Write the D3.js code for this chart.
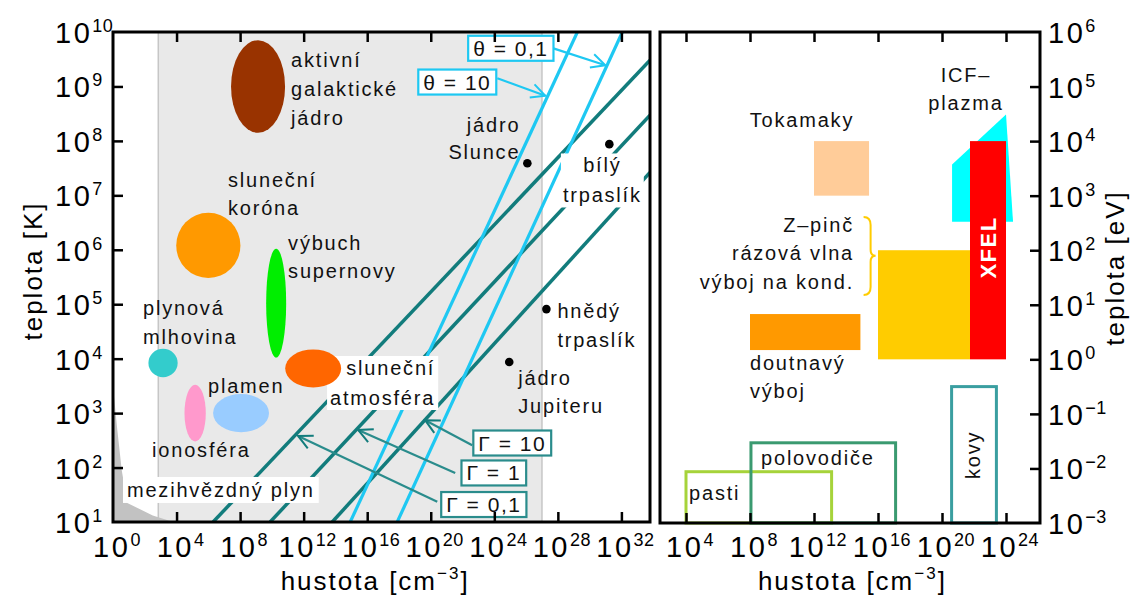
<!DOCTYPE html>
<html>
<head>
<meta charset="utf-8">
<script src="https://cdn.jsdelivr.net/npm/d3@7"></script>
<style>
  body { margin: 0; background: #fff; }
  text { font-family: "Liberation Sans", Arial, sans-serif; }
</style>
</head>
<body>
<script>
// all values are log10 exponents: density in cm^-3, temperature in K (left) / eV (right)
const xTicksLeft = [0, 4, 8, 12, 16, 20, 24, 28, 32];
const yTicksLeft = [1, 2, 3, 4, 5, 6, 7, 8, 9, 10];
const xTicksRight = [4, 8, 12, 16, 20, 24];
const yTicksRight = [-3, -2, -1, 0, 1, 2, 3, 4, 5, 6];

// degenerate (light gray) band and interstellar gas corner
const degenBand = [2.85, 27];
const ismN = [0, 0.25, 0.55, 0.9, 2.5, 3.8, 0];
const ismT = [3.5, 2.75, 1.95, 1.35, 1.12, 1.0, 1.0];

// plasma blobs (left panel)
const blobN = [9.13, 6.0, 10.27, 3.15, 12.6, 5.17, 8.06];
const blobT = [9.0, 6.08, 5.02, 3.92, 3.82, 3.0, 3.0];
const blobRN = [1.7, 2.02, 0.63, 0.92, 1.76, 0.67, 1.76];
const blobRT = [0.85, 0.6, 1.0, 0.26, 0.35, 0.52, 0.35];
const blobColors = ["#993300", "#ff9900", "#00ee00", "#33cccc", "#ff6600", "#ff99cc", "#99ccff"];

// Gamma = const (teal) and theta = const (cyan) lines, [n, T] end points
const gammaNames = ["Γ = 0,1", "Γ = 1", "Γ = 10"];
const gammaStart = [[6.3, 1], [9.89, 1], [13.8, 1]];
const gammaEnd = [[33.8, 9.48], [33.8, 8.47], [33.8, 7.42]];
const thetaNames = ["θ = 10", "θ = 0,1"];
const thetaStart = [[14.93, 1], [17.89, 1]];
const thetaEnd = [[29.23, 10], [32.06, 10]];

// stars
const starN = [26.08, 31.24, 27.28, 24.94];
const starT = [7.59, 7.94, 4.91, 3.94];

// right panel: filled boxes [n0, n1, T0, T1]
const fillNames = ["Tokamaky", "Z-pinč", "doutnavý výboj", "XFEL"];
const fillN = [[12, 15.44], [16, 21.75], [8, 14.9], [21.75, 24]];
const fillT = [[3, 4], [0, 2], [0.17, 0.83], [0, 4]];
const fillColors = ["#ffcc99", "#ffcc00", "#ff9900", "#ff0000"];
// outlined boxes
const outNames = ["pasti", "polovodiče", "kovy"];
const outN = [[4, 13.1], [8.06, 17.1], [20.6, 23.4]];
const outT = [[-3, -2.06], [-3, -1.53], [-3, -0.5]];
const outColors = ["#a6d33a", "#3a9a70", "#3a9ea0"];
// ICF plasma polygon
const icfN = [20.63, 24.0, 24.44, 20.63];
const icfT = [3.57, 4.49, 2.52, 2.52];

const W = 1133, H = 604;
const svg = d3.select("body").append("svg").attr("width", W).attr("height", H);

const xL = d3.scaleLinear().domain([0, 33.8]).range([113, 650]);
const yL = d3.scaleLinear().domain([1, 10]).range([522, 32]);
const xR = d3.scaleLinear().domain([2.375, 26.125]).range([660, 1040]);
const yR = d3.scaleLinear().domain([-3, 6]).range([523, 32]);

const teal = "#127c7c", cyan = "#1ec8f2";

const defs = svg.append("defs");
defs.append("clipPath").attr("id", "clipL").append("rect")
  .attr("x", xL(0)).attr("y", yL(10)).attr("width", xL(33.8) - xL(0)).attr("height", yL(1) - yL(10));
[["arrTeal", teal], ["arrCyan", cyan]].forEach(([id, c]) => {
  defs.append("marker").attr("id", id)
    .attr("viewBox", "-16 -10 18 20").attr("refX", 0).attr("refY", 0)
    .attr("markerWidth", 18).attr("markerHeight", 20)
    .attr("markerUnits", "userSpaceOnUse").attr("orient", "auto")
    .append("path").attr("d", "M-14,-7L0,0L-14,7")
    .attr("fill", "none").attr("stroke", c).attr("stroke-width", 2);
});

// ---------- left panel ----------
const left = svg.append("g");
left.append("rect")
  .attr("x", xL(degenBand[0])).attr("y", yL(10))
  .attr("width", xL(degenBand[1]) - xL(degenBand[0])).attr("height", yL(1) - yL(10))
  .attr("fill", "#e9e9e9");
left.selectAll(".band-edge").data(degenBand).join("line")
  .attr("x1", d => xL(d)).attr("x2", d => xL(d)).attr("y1", yL(10)).attr("y2", yL(1))
  .attr("stroke", "#c6c6c6").attr("stroke-width", 1.5);

left.append("path")
  .attr("d", d3.line().x((d, i) => xL(d)).y((d, i) => yL(ismT[i]))(ismN))
  .attr("fill", "#c2c2c2");

const lines = left.append("g").attr("clip-path", "url(#clipL)");
lines.selectAll(".gamma").data(gammaStart).join("line")
  .attr("x1", d => xL(d[0])).attr("y1", d => yL(d[1]))
  .attr("x2", (d, i) => xL(gammaEnd[i][0])).attr("y2", (d, i) => yL(gammaEnd[i][1]))
  .attr("stroke", teal).attr("stroke-width", 3.5);
lines.selectAll(".theta").data(thetaStart).join("line")
  .attr("x1", d => xL(d[0])).attr("y1", d => yL(d[1]))
  .attr("x2", (d, i) => xL(thetaEnd[i][0])).attr("y2", (d, i) => yL(thetaEnd[i][1]))
  .attr("stroke", cyan).attr("stroke-width", 3.2);

// text helpers
function multiText(g, linesArr, x, y, anchor, lh) {
  const t = g.append("text").attr("x", x).attr("y", y)
    .attr("text-anchor", anchor).attr("font-size", 20).attr("letter-spacing", 1.8).attr("fill", "#111");
  linesArr.forEach((s, i) => t.append("tspan").attr("x", x).attr("dy", i ? lh : 0).text(s));
  return t;
}
function boxBehind(g, t, pad, stroke) {
  const b = t.node().getBBox();
  g.insert("rect", () => t.node())
    .attr("x", b.x - pad[0]).attr("y", b.y - pad[1])
    .attr("width", b.width + 2 * pad[0]).attr("height", b.height + 2 * pad[1])
    .attr("fill", "#fff").attr("stroke", stroke || "none").attr("stroke-width", 2.2);
}

// labels that hide the lines behind them
const boxed = left.append("g");
boxBehind(boxed, multiText(boxed, ["mezihvězdný plyn"], xL(0.88), yL(1.46), "start", 29), [4, 2]);
boxBehind(boxed, multiText(boxed, ["sluneční", "atmosféra"], xL(20.28), yL(3.70), "end", 30), [3, 1]);
boxBehind(boxed, multiText(boxed, ["bílý", "trpaslík"], xL(30.8), yL(7.42), "middle", 30), [2, 1]);

// blobs
left.selectAll(".blob").data(blobN).join("ellipse")
  .attr("cx", d => xL(d)).attr("cy", (d, i) => yL(blobT[i]))
  .attr("rx", (d, i) => xL(blobRN[i]) - xL(0)).attr("ry", (d, i) => yL(1) - yL(1 + blobRT[i]))
  .attr("fill", (d, i) => blobColors[i]);

// stars
left.selectAll(".star").data(starN).join("circle")
  .attr("cx", d => xL(d)).attr("cy", (d, i) => yL(starT[i])).attr("r", 4.3).attr("fill", "#000");

// plain labels
const lab = left.append("g");
multiText(lab, ["aktivní", "galaktické", "jádro"], xL(11.21), yL(9.35), "start", 29);
multiText(lab, ["sluneční", "koróna"], xL(7.24), yL(7.147), "start", 28);
multiText(lab, ["výbuch", "supernovy"], xL(11.02), yL(5.99), "start", 28);
multiText(lab, ["plynová", "mlhovina"], xL(1.89), yL(4.80), "start", 29);
multiText(lab, ["plamen"], xL(5.98), yL(3.37), "start", 28);
multiText(lab, ["ionosféra"], xL(2.46), yL(2.19), "start", 28);
multiText(lab, ["jádro", "Slunce"], xL(25.64), yL(8.16), "end", 27);
multiText(lab, ["hnědý", "trpaslík"], xL(27.97), yL(4.74), "start", 29);
multiText(lab, ["jádro", "Jupiteru"], xL(25.51), yL(3.51), "start", 28);

// Gamma / theta annotation arrows and boxes
const gammaArrowFrom = [[20.41, 1.37], [21.54, 1.90], [22.61, 2.41]];
const gammaArrowTo = [[11.65, 2.58], [15.43, 2.69], [19.65, 2.87]];
const gammaBoxAt = [[23.34, 1.33], [23.97, 1.91], [25.13, 2.46]];
const thetaArrowFrom = [[24.19, 9.15], [27.72, 9.70]];
const thetaArrowTo = [[27.21, 8.83], [30.99, 9.39]];
const thetaBoxAt = [[21.67, 9.09], [25.04, 9.71]];

const ann = left.append("g");
function annotate(names, from, to, at, color, marker) {
  names.forEach((name, i) => {
    ann.append("line")
      .attr("x1", xL(from[i][0])).attr("y1", yL(from[i][1]))
      .attr("x2", xL(to[i][0])).attr("y2", yL(to[i][1]))
      .attr("stroke", color).attr("stroke-width", 2.2).attr("marker-end", `url(#${marker})`);
  });
  names.forEach((name, i) => {
    const t = ann.append("text").attr("x", xL(at[i][0])).attr("y", yL(at[i][1]) + 8)
      .attr("text-anchor", "middle").attr("font-size", 21).attr("letter-spacing", 1.5)
      .attr("fill", "#111").text(name);
    boxBehind(ann, t, [5, 1], color);
  });
}
annotate(gammaNames, gammaArrowFrom, gammaArrowTo, gammaBoxAt, "#2a8c8c", "arrTeal");
annotate(thetaNames, thetaArrowFrom, thetaArrowTo, thetaBoxAt, cyan, "arrCyan");

// ---------- right panel ----------
const right = svg.append("g");
right.append("path")
  .attr("d", d3.line().x(d => xR(d)).y((d, i) => yR(icfT[i])).curve(d3.curveLinearClosed)(icfN))
  .attr("fill", "#00ffff");
right.selectAll(".fill").data(fillN).join("rect")
  .attr("x", d => xR(d[0])).attr("width", d => xR(d[1]) - xR(d[0]))
  .attr("y", (d, i) => yR(fillT[i][1])).attr("height", (d, i) => yR(fillT[i][0]) - yR(fillT[i][1]))
  .attr("fill", (d, i) => fillColors[i]);
right.selectAll(".out").data(outN).join("rect")
  .attr("x", d => xR(d[0])).attr("width", d => xR(d[1]) - xR(d[0]))
  .attr("y", (d, i) => yR(outT[i][1])).attr("height", (d, i) => yR(outT[i][0]) - yR(outT[i][1]))
  .attr("fill", "none").attr("stroke", (d, i) => outColors[i]).attr("stroke-width", 3);

// brace for the Z-pinch group
{
  const x0 = xR(15.1), x1 = xR(15.85), y0 = yR(2.61), y1 = yR(1.18), ym = yR(1.9), xm = x0 + 7;
  right.append("path")
    .attr("d", `M${x0},${y0}Q${xm},${y0} ${xm},${y0 + 8}L${xm},${ym - 6}Q${xm},${ym} ${x1},${ym}` +
      `Q${xm},${ym} ${xm},${ym + 6}L${xm},${y1 - 8}Q${xm},${y1} ${x0},${y1}`)
    .attr("fill", "none").attr("stroke", "#ffcc00").attr("stroke-width", 2);
}

const rlab = right.append("g");
multiText(rlab, ["Tokamaky"], xR(11.25), yR(4.25), "middle", 28);
multiText(rlab, ["ICF–", "plazma"], xR(21.5), yR(5.09), "middle", 28);
multiText(rlab, ["Z–pinč", "rázová vlna", "výboj na kond."], xR(14.5), yR(2.34), "end", 28.5);
multiText(rlab, ["doutnavý", "výboj"], xR(8), yR(-0.19), "start", 28);
multiText(rlab, ["polovodiče"], xR(8.69), yR(-1.94), "start", 28);
multiText(rlab, ["pasti"], xR(4.19), yR(-2.58), "start", 28);
rlab.append("text")
  .attr("transform", `translate(${xR(21.94) + 7},${yR(-1.75)}) rotate(-90)`)
  .attr("text-anchor", "middle").attr("font-size", 20).attr("letter-spacing", 1.8)
  .attr("fill", "#111").text("kovy");
rlab.append("text")
  .attr("transform", `translate(${xR(22.9) + 8},${yR(2.05)}) rotate(-90)`)
  .attr("text-anchor", "middle").attr("font-size", 22).attr("font-weight", "bold")
  .attr("letter-spacing", 1.5).attr("fill", "#fff").text("XFEL");

// ---------- axes and frames ----------
function frame(x, y, xd, yd) {
  svg.append("rect").attr("x", x(xd[0])).attr("y", y(yd[1]))
    .attr("width", x(xd[1]) - x(xd[0])).attr("height", y(yd[0]) - y(yd[1]))
    .attr("fill", "none").attr("stroke", "#000").attr("stroke-width", 3);
}
function ticks(axis, transform) {
  svg.append("g").attr("transform", transform).call(axis)
    .call(g => g.select(".domain").remove())
    .call(g => g.selectAll(".tick line").attr("stroke", "#000").attr("stroke-width", 2.5));
}
const inner = v => v.slice(1, -1);
ticks(d3.axisBottom(xL).tickValues(inner(xTicksLeft.concat([34]))).tickSize(-10).tickFormat(""), `translate(0,${yL(1)})`);
ticks(d3.axisTop(xL).tickValues(inner(xTicksLeft.concat([34]))).tickSize(-10).tickFormat(""), `translate(0,${yL(10)})`);
ticks(d3.axisLeft(yL).tickValues(inner(yTicksLeft)).tickSize(-10).tickFormat(""), `translate(${xL(0)},0)`);
ticks(d3.axisBottom(xR).tickValues(xTicksRight).tickSize(-10).tickFormat(""), `translate(0,${yR(-3)})`);
ticks(d3.axisTop(xR).tickValues(xTicksRight).tickSize(-10).tickFormat(""), `translate(0,${yR(6)})`);
ticks(d3.axisRight(yR).tickValues(inner(yTicksRight)).tickSize(-10).tickFormat(""), `translate(${xR(26.125)},0)`);
frame(xL, yL, [0, 33.8], [1, 10]);
frame(xR, yR, [2.375, 26.125], [-3, 6]);

const fmtExp = e => (e < 0 ? "−" + (-e) : String(e));
function powLabel(x, y, e, anchor) {
  const t = svg.append("text").attr("x", x).attr("y", y).attr("text-anchor", anchor)
    .attr("font-size", 29).attr("letter-spacing", 2.5).attr("fill", "#000");
  t.append("tspan").text("10");
  t.append("tspan").attr("dy", -11).attr("font-size", 18).attr("letter-spacing", 0.5).text(fmtExp(e));
}
yTicksLeft.forEach(e => powLabel(55, yL(e) + 11, e, "start"));
yTicksRight.forEach(e => powLabel(1048, yR(e) + 11, e, "start"));
xTicksLeft.forEach(e => powLabel(xL(e) + 4, 557, e, "middle"));
xTicksRight.forEach(e => powLabel(xR(e) + 4, 557, e, "middle"));

function title(x, y, rot, parts) {
  const t = svg.append("text").attr("transform", `translate(${x},${y}) rotate(${rot})`)
    .attr("text-anchor", "middle").attr("font-size", 26).attr("letter-spacing", 2).attr("fill", "#000");
  t.append("tspan").text(parts[0]);
  if (parts[1]) {
    t.append("tspan").attr("dy", -11).attr("font-size", 17).text(parts[1]);
    t.append("tspan").attr("dy", 11).text("]");
  }
}
title(xL(16.5), 590, 0, ["hustota [cm", "−3"]);
title(xR(14.4), 590, 0, ["hustota [cm", "−3"]);
title(42, 271, -90, ["teplota [K]"]);
title(1124, 268, -90, ["teplota [eV]"]);
</script>
</body>
</html>
